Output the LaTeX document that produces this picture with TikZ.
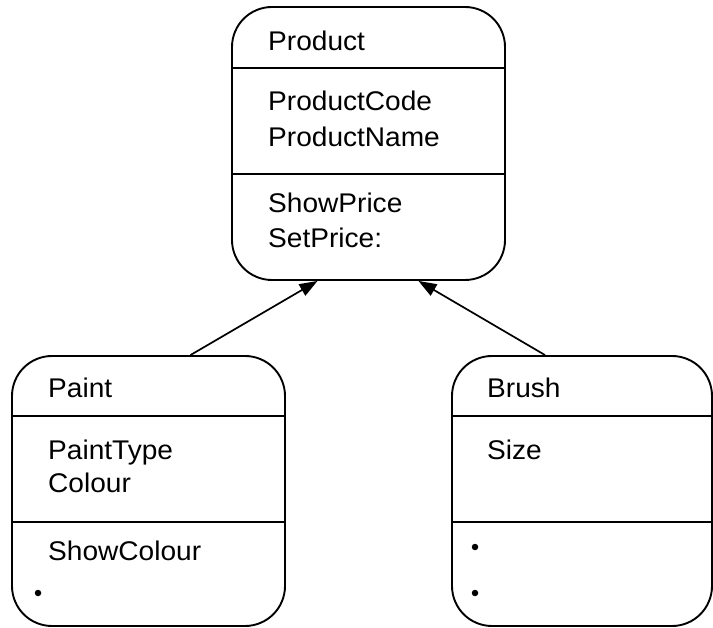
\documentclass[tikz,border=0pt]{standalone}
\usepackage{fontspec}
\setmainfont[FakeStretch=1.04]{Liberation Sans}
\usetikzlibrary{arrows.meta}
\begin{document}
\begin{tikzpicture}[x=1pt,y=-1pt,
  classbox/.style={draw, line width=1.9pt, rounded corners=40pt, inner sep=0pt},
  member/.style={anchor=base west, inner sep=0pt, font=\fontsize{27}{32}\selectfont},
  divider/.style={line width=1.9pt},
  dotmark/.style={circle, fill, inner sep=0pt, minimum size=6.5pt},
  inherit/.style={line width=1.7pt, -{Triangle[length=18pt,width=13pt]}}]
\useasboundingbox (0,0) rectangle (713,628);

% Product class
\node[classbox, minimum width=273pt, minimum height=273pt] (product) at (368.5,143.5) {};
\draw[divider] (product.west |- 0,68) -- (product.east |- 0,68);
\draw[divider] (product.west |- 0,174) -- (product.east |- 0,174);
\node[member] (pname) at (268,51) {Product};
\node[member] (pcode) at (268,111) {ProductCode};
\node[member] (pnm) at (268,147) {ProductName};
\node[member] (pshow) at (268,213) {ShowPrice};
\node[member] (pset) at (268,248) {SetPrice:};

% Paint class
\node[classbox, minimum width=273pt, minimum height=270pt] (paint) at (148.5,491) {};
\draw[divider] (paint.west |- 0,416) -- (paint.east |- 0,416);
\draw[divider] (paint.west |- 0,522) -- (paint.east |- 0,522);
\node[member] (aname) at (48,398) {Paint};
\node[member] (atype) at (48,460) {PaintType};
\node[member] (acol) at (48,493) {Colour};
\node[member] (ashow) at (48,561) {ShowColour};
\node[dotmark] (adot) at (38,593) {};

% Brush class
\node[classbox, minimum width=260pt, minimum height=270pt] (brush) at (582,491) {};
\draw[divider] (brush.west |- 0,416) -- (brush.east |- 0,416);
\draw[divider] (brush.west |- 0,522) -- (brush.east |- 0,522);
\node[member] (bname) at (487,398) {Brush};
\node[member] (bsize) at (487,460) {Size};
\node[dotmark] (bdot1) at (475,547) {};
\node[dotmark] (bdot2) at (475,593) {};

% Inheritance arrows
\draw[inherit] ([xshift=42pt]paint.north) -- ([xshift=-51pt]product.south);
\draw[inherit] ([xshift=-37pt]brush.north) -- ([xshift=50pt]product.south);
\end{tikzpicture}
\end{document}
